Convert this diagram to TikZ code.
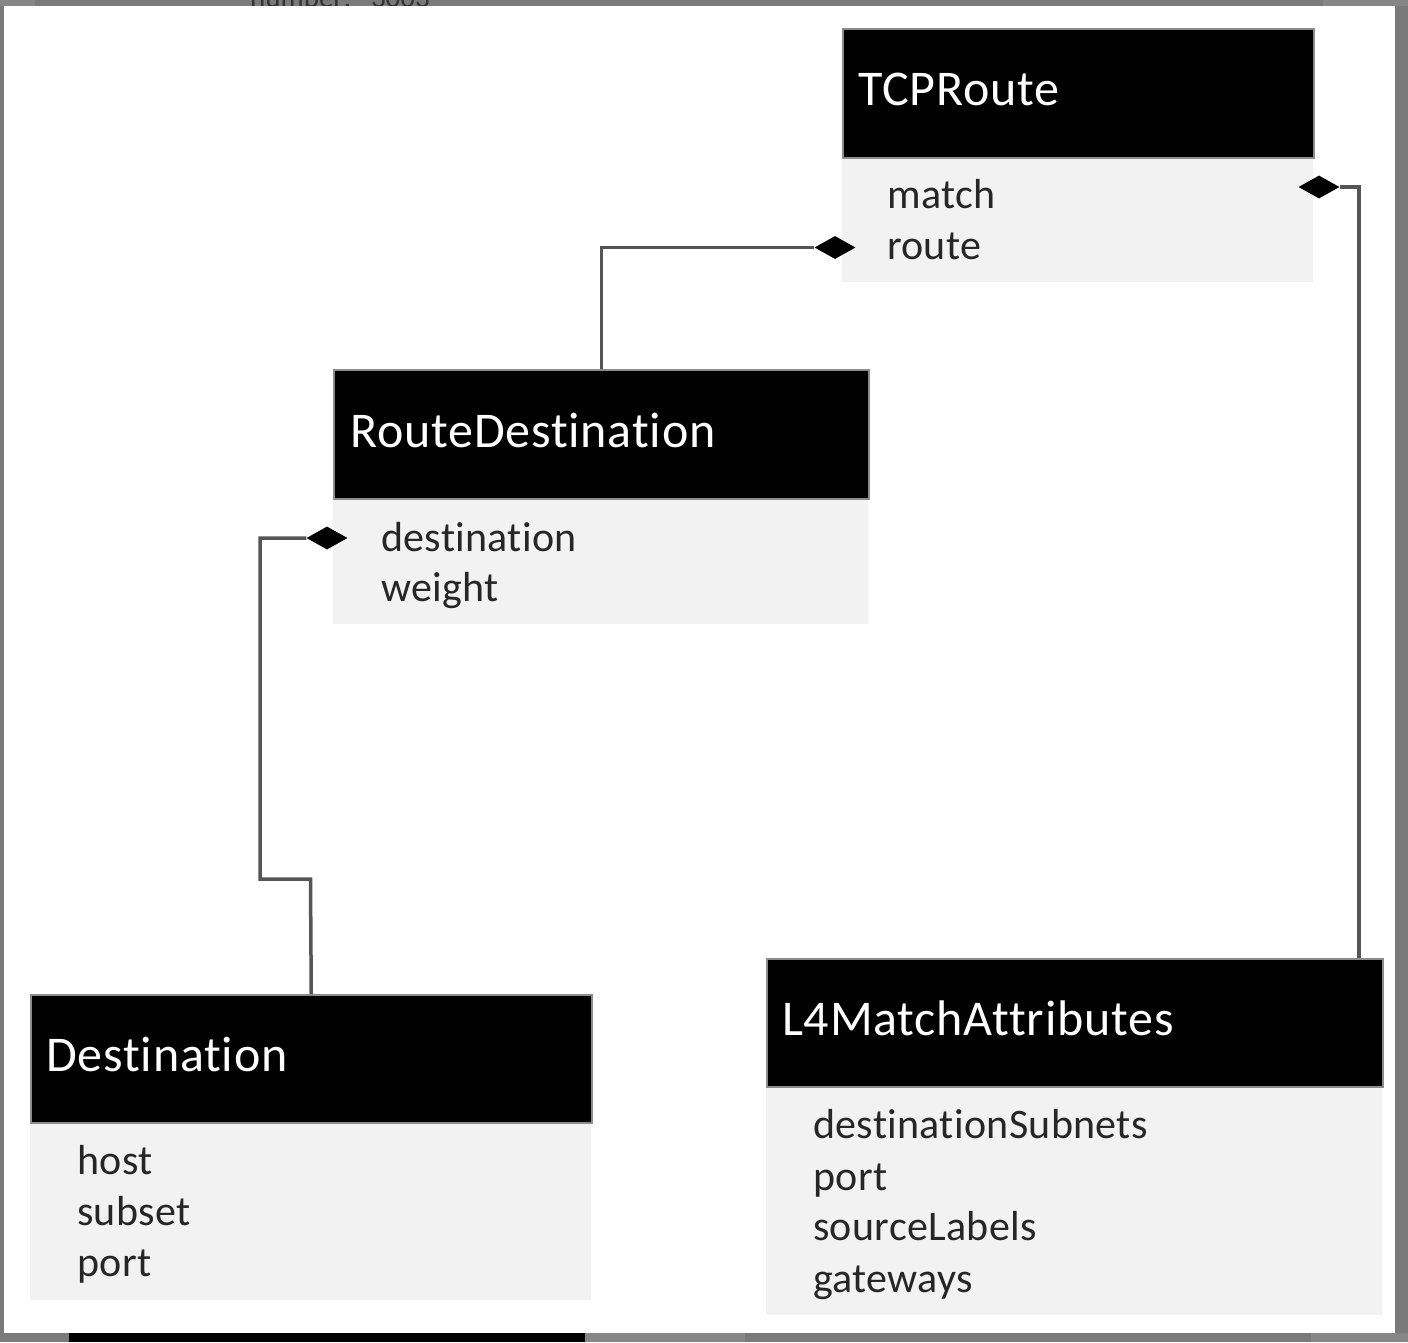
\documentclass[tikz,border=0pt]{standalone}
\usepackage{fontspec}
\setmainfont{Carlito}[Ligatures={NoCommon,NoContextual}]
\newfontfamily\ttlfont{Carlito}[Ligatures={NoCommon,NoContextual},LetterSpace=1.6]
\newfontfamily\fldfont{Carlito}[Ligatures={NoCommon,NoContextual},LetterSpace=0.8]
\usetikzlibrary{shapes.geometric}
\definecolor{framegray}{HTML}{7A7A7A}
\definecolor{framelight}{HTML}{868686}
\definecolor{bodygray}{HTML}{F2F2F2}
\definecolor{conngray}{HTML}{555555}
\tikzset{
  hdr/.style={draw=black!45, line width=1.5pt, fill=black, anchor=north west, inner sep=0pt, minimum width=#1},
  bodybox/.style={fill=bodygray, anchor=north west, inner sep=0pt, minimum width=#1},
  ttl/.style={anchor=base west, inner sep=0pt, text=white, font=\ttlfont\fontsize{50}{60}\selectfont},
  fld/.style={anchor=base west, inner sep=0pt, text=black!85, font=\fldfont\fontsize{42}{50}\selectfont},
  dia/.style={diamond, fill=black, inner sep=0pt, minimum width=41pt, minimum height=23pt},
  conn/.style={draw=conngray, line width=3.5pt}
}
\begin{document}
\begin{tikzpicture}[x=1pt,y=-1pt]
\useasboundingbox (0,0) rectangle (1408,1342);
% frame
\fill[framegray] (0,0) rectangle (1408,1342);
\fill[framelight] (0,0) rectangle (35,6);
\fill[framelight] (1323,0) rectangle (1408,6);
\fill[framelight] (585,1333) rectangle (745,1342);
\fill[framelight] (1311,1333) rectangle (1408,1342);
\fill[black] (69,1333) rectangle (585,1342);
\node[anchor=base west, inner sep=0pt, text=black!80, font=\fontsize{29}{34}\selectfont] (topnum) at (250,7) {number:\ \ \ 3003};
\fill[white] (4,6) rectangle (1395,1333);

% TCPRoute
\node[bodybox=471pt, minimum height=125pt] (tcpb) at (842,157) {};
\node[hdr=471pt, minimum height=129pt] (tcph) at (842,28) {};
\node[ttl] (tcpt) at (858,105) {TCPRoute};
\node[fld] (tcpf1) at (887,208) {match};
\node[fld] (tcpf2) at (887,259) {route};

% RouteDestination
\node[bodybox=535pt, minimum height=126pt] (rdb) at (333,498) {};
\node[hdr=535pt, minimum height=129pt] (rdh) at (333,369) {};
\node[ttl] (rdt) at (350,447) {RouteDestination};
\node[fld] (rdf1) at (381,551) {destination};
\node[fld] (rdf2) at (381,601) {weight};

% Destination
\node[bodybox=561pt, minimum height=178pt] (db) at (30,1122) {};
\node[hdr=561pt, minimum height=128pt] (dh) at (30,994) {};
\node[ttl] (dt) at (46,1071) {Destination};
\node[fld] (df1) at (77,1174) {host};
\node[fld] (df2) at (77,1225) {subset};
\node[fld] (df3) at (77,1276) {port};

% L4MatchAttributes
\node[bodybox=616pt, minimum height=229pt] (lb) at (766,1086) {};
\node[hdr=616pt, minimum height=128pt] (lh) at (766,958) {};
\node[ttl] (lt) at (782,1035) {L4MatchAttributes};
\node[fld] (lf1) at (813,1138) {destinationSubnets};
\node[fld] (lf2) at (813,1190) {port};
\node[fld] (lf3) at (813,1240) {sourceLabels};
\node[fld] (lf4) at (813,1292) {gateways};

% diamonds
\node[dia] (d1) at (835,247.5) {};
\node[dia] (d2) at (327,538) {};
\node[dia] (d3) at (1319,187) {};

% connectors
\coordinate (c2a) at (310.5,879);
\coordinate (c2b) at (260,879);
\coordinate (c3) at (1359,958);
\draw[conn] (rdh.north) |- (d1.west);
\draw[conn] (dh.north) -- (c2a) -- (c2b) |- (d2.west);
\draw[conn] (c3) |- (d3.east);
\end{tikzpicture}
\end{document}
